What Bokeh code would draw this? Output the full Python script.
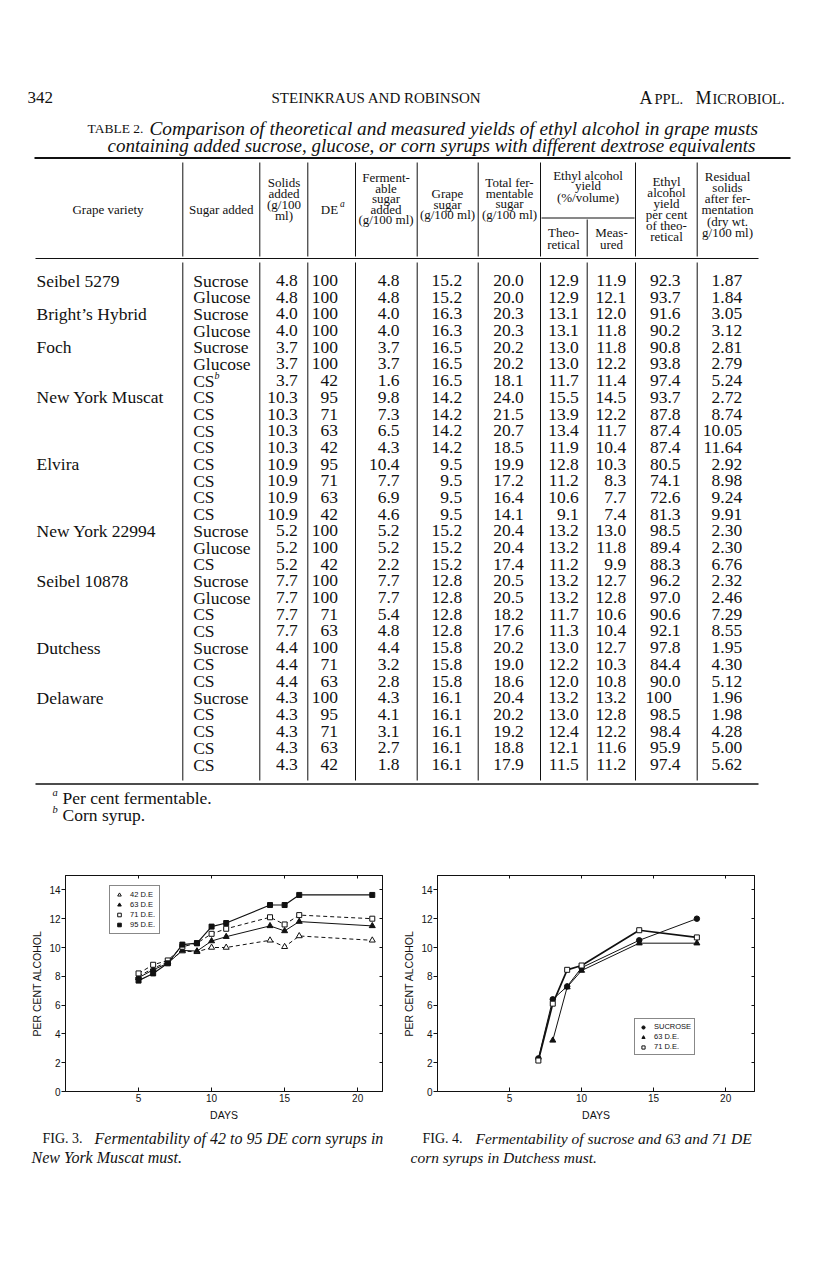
from bokeh.plotting import figure
from bokeh.models import Range1d, Legend, LegendItem, LinearAxis, FixedTicker
from bokeh.layouts import column, row
from bokeh.embed import file_html
from bokeh.resources import INLINE
from bokeh.core.properties import value

SERIF = "Liberation Serif"
SANS = "Liberation Sans"
INK = "#111111"

# ------------------------------------------------------------------ table data
grape_variety = ["Seibel 5279", "", "Bright\u2019s Hybrid", "", "Foch", "", "",
                 "New York Muscat", "", "", "", "Elvira", "", "", "",
                 "New York 22994", "", "", "Seibel 10878", "", "", "",
                 "Dutchess", "", "", "Delaware", "", "", "", ""]
sugar_added = ["Sucrose", "Glucose", "Sucrose", "Glucose", "Sucrose", "Glucose", "CS",
               "CS", "CS", "CS", "CS", "CS", "CS", "CS", "CS",
               "Sucrose", "Glucose", "CS", "Sucrose", "Glucose", "CS", "CS",
               "Sucrose", "CS", "CS", "Sucrose", "CS", "CS", "CS", "CS"]
sugar_note = {6: "b"}
solids_added = ["4.8", "4.8", "4.0", "4.0", "3.7", "3.7", "3.7", "10.3", "10.3", "10.3", "10.3",
                "10.9", "10.9", "10.9", "10.9", "5.2", "5.2", "5.2", "7.7", "7.7", "7.7", "7.7",
                "4.4", "4.4", "4.4", "4.3", "4.3", "4.3", "4.3", "4.3"]
de_values = ["100", "100", "100", "100", "100", "100", "42", "95", "71", "63", "42",
             "95", "71", "63", "42", "100", "100", "42", "100", "100", "71", "63",
             "100", "71", "63", "100", "95", "71", "63", "42"]
fermentable_added = ["4.8", "4.8", "4.0", "4.0", "3.7", "3.7", "1.6", "9.8", "7.3", "6.5", "4.3",
                     "10.4", "7.7", "6.9", "4.6", "5.2", "5.2", "2.2", "7.7", "7.7", "5.4", "4.8",
                     "4.4", "3.2", "2.8", "4.3", "4.1", "3.1", "2.7", "1.8"]
grape_sugar = ["15.2", "15.2", "16.3", "16.3", "16.5", "16.5", "16.5", "14.2", "14.2", "14.2", "14.2",
               "9.5", "9.5", "9.5", "9.5", "15.2", "15.2", "15.2", "12.8", "12.8", "12.8", "12.8",
               "15.8", "15.8", "15.8", "16.1", "16.1", "16.1", "16.1", "16.1"]
total_fermentable = ["20.0", "20.0", "20.3", "20.3", "20.2", "20.2", "18.1", "24.0", "21.5", "20.7", "18.5",
                     "19.9", "17.2", "16.4", "14.1", "20.4", "20.4", "17.4", "20.5", "20.5", "18.2", "17.6",
                     "20.2", "19.0", "18.6", "20.4", "20.2", "19.2", "18.8", "17.9"]
yield_theoretical = ["12.9", "12.9", "13.1", "13.1", "13.0", "13.0", "11.7", "15.5", "13.9", "13.4", "11.9",
                     "12.8", "11.2", "10.6", "9.1", "13.2", "13.2", "11.2", "13.2", "13.2", "11.7", "11.3",
                     "13.0", "12.2", "12.0", "13.2", "13.0", "12.4", "12.1", "11.5"]
yield_measured = ["11.9", "12.1", "12.0", "11.8", "11.8", "12.2", "11.4", "14.5", "12.2", "11.7", "10.4",
                  "10.3", "8.3", "7.7", "7.4", "13.0", "11.8", "9.9", "12.7", "12.8", "10.6", "10.4",
                  "12.7", "10.3", "10.8", "13.2", "12.8", "12.2", "11.6", "11.2"]
pct_of_theoretical = ["92.3", "93.7", "91.6", "90.2", "90.8", "93.8", "97.4", "93.7", "87.8", "87.4", "87.4",
                      "80.5", "74.1", "72.6", "81.3", "98.5", "89.4", "88.3", "96.2", "97.0", "90.6", "92.1",
                      "97.8", "84.4", "90.0", "100", "98.5", "98.4", "95.9", "97.4"]
residual_solids = ["1.87", "1.84", "3.05", "3.12", "2.81", "2.79", "5.24", "2.72", "8.74", "10.05", "11.64",
                   "2.92", "8.98", "9.24", "9.91", "2.30", "2.30", "6.76", "2.32", "2.46", "7.29", "8.55",
                   "1.95", "4.30", "5.12", "1.96", "1.98", "4.28", "5.00", "5.62"]

# ------------------------------------------------------------------ Fig. 3 data (New York Muscat)
fig3_days = [5, 6, 7, 8, 9, 10, 11, 14, 15, 16, 21]
fig3_de42 = [8.0, 8.55, 9.0, 9.75, 9.7, 10.0, 10.0, 10.5, 10.05, 10.8, 10.5]
fig3_de63 = [7.9, 8.45, 8.9, 9.8, 9.75, 10.45, 10.75, 11.5, 11.15, 11.8, 11.5]
fig3_de71 = [8.2, 8.8, 9.1, 10.05, 10.3, 10.95, 11.3, 12.1, 11.6, 12.25, 12.0]
fig3_de95 = [7.7, 8.2, 8.9, 10.2, 10.3, 11.45, 11.7, 12.95, 12.95, 13.65, 13.65]
fig3_labels = ["42 D.E", "63 D.E", "71 D.E.", "95 D.E."]

# ------------------------------------------------------------------ Fig. 4 data (Dutchess)
fig4_sucrose_days = [7, 8, 9, 10, 14, 18]
fig4_sucrose = [2.3, 6.4, 7.3, 8.6, 10.5, 12.0]
fig4_de63_days = [8, 9, 10, 14, 18]
fig4_de63 = [3.55, 7.25, 8.4, 10.3, 10.3]
fig4_de71_days = [7, 8, 9, 10, 14, 18]
fig4_de71 = [2.15, 6.1, 8.45, 8.75, 11.2, 10.7]
fig4_labels = ["SUCROSE", "63 D.E.", "71 D.E."]

day_ticks = [5, 10, 15, 20]
pct_ticks = [0, 2, 4, 6, 8, 10, 12, 14]


def txt(p, xs, ys, texts, size, align="left", font=SERIF, style="normal"):
    p.text(x=xs, y=ys, text=texts, text_font=value(font), text_font_size=size,
           text_font_style=style, text_align=align, text_baseline="middle", text_color=INK)


def blank(width, height, top, bottom):
    p = figure(width=width, height=height, x_range=Range1d(0, width), y_range=Range1d(bottom, top),
               output_backend="svg", toolbar_location=None, min_border=0,
               x_axis_location=None, y_axis_location=None)
    p.xgrid.visible = False
    p.ygrid.visible = False
    p.outline_line_color = None
    p.background_fill_color = "white"
    p.border_fill_color = "white"
    return p


# ================================================================== page top (header + table)
page = blank(808, 862, 0, 862)

txt(page, [27], [97], ["342"], "17px")
txt(page, [376], [97], ["STEINKRAUS AND ROBINSON"], "15px", align="center")
txt(page, [639, 654, 695, 712], [97, 98, 97, 98], ["A", "PPL.", "M", "ICROBIOL."],
    ["18px", "14.5px", "18px", "14.5px"])

txt(page, [87], [128], ["TABLE 2."], "13.5px")
txt(page, [149], [128], ["Comparison of theoretical and measured yields of ethyl alcohol in grape musts"],
    "19.3px", style="italic")
txt(page, [431], [145], ["containing added sucrose, glucose, or corn syrups with different dextrose equivalents"],
    "19px", align="center", style="italic")

# rules
page.segment(x0=[34], y0=[157.5], x1=[790], y1=[157.5], line_color=INK, line_width=2)
page.segment(x0=[35], y0=[258], x1=[758], y1=[258], line_color=INK, line_width=1.2)
page.segment(x0=[541], y0=[217.5], x1=[634], y1=[217.5], line_color=INK, line_width=1)
page.segment(x0=[35], y0=[783.5], x1=[758], y1=[783.5], line_color=INK, line_width=1.5)

col_edges = [182.3, 259.3, 307.3, 355, 416.7, 477.7, 540, 586.7, 635, 696.7]
head_edges = [e for e in col_edges if e != 586.7]
page.segment(x0=head_edges, y0=[162] * len(head_edges), x1=head_edges, y1=[256] * len(head_edges),
             line_color=INK, line_width=1)
page.segment(x0=[586.7], y0=[219], x1=[586.7], y1=[256], line_color=INK, line_width=1)
page.segment(x0=col_edges, y0=[262] * len(col_edges), x1=col_edges, y1=[780] * len(col_edges),
             line_color=INK, line_width=1)

# column headings
head_cells = [
    (107.5, [("Grape variety", 209.3)]),
    (220.8, [("Sugar added", 209.3)]),
    (283.5, [("Solids", 182), ("added", 193), ("(g/100", 204), ("ml)", 215)]),
    (329, [("DE", 209.3)]),
    (385.5, [("Ferment-", 177), ("able", 187.5), ("sugar", 198), ("added", 208.5), ("(g/100 ml)", 219)]),
    (447, [("Grape", 193), ("sugar", 203.5), ("(g/100 ml)", 214)]),
    (509, [("Total fer-", 182), ("mentable", 192.5), ("sugar", 203), ("(g/100 ml)", 213.5)]),
    (587.5, [("Ethyl alcohol", 175), ("yield", 185), ("(%/volume)", 196.5)]),
    (563, [("Theo-", 232), ("retical", 244)]),
    (611, [("Meas-", 232), ("ured", 244)]),
    (666, [("Ethyl", 181), ("alcohol", 192), ("yield", 203), ("per cent", 214), ("of theo-", 225), ("retical", 236)]),
    (727, [("Residual", 176), ("solids", 187), ("after fer-", 198), ("mentation", 209), ("(dry wt.", 220.5), ("g/100 ml)", 232)]),
]
hx, hy, ht = [], [], []
for cx, lines in head_cells:
    for t, y in lines:
        hx.append(cx)
        hy.append(y)
        ht.append(t)
txt(page, hx, hy, ht, "13px", align="center")
txt(page, [339.5], [203.5], ["a"], "9.5px", style="italic")

# table body
n = len(sugar_added)
row_y = [280 + i * 16.69 for i in range(n)]
BODY = "17.5px"
txt(page, [36] * n, row_y, grape_variety, BODY)
txt(page, [192.7] * n, row_y, sugar_added, BODY)
for i, note in sugar_note.items():
    txt(page, [214], [row_y[i] - 5], [note], "10px", style="italic")
txt(page, [297.3] * n, row_y, solids_added, BODY, align="right")
txt(page, [337.5] * n, row_y, de_values, BODY, align="right")
txt(page, [399] * n, row_y, fermentable_added, BODY, align="right")
txt(page, [461.7] * n, row_y, grape_sugar, BODY, align="right")
txt(page, [523.3] * n, row_y, total_fermentable, BODY, align="right")
txt(page, [578.3] * n, row_y, yield_theoretical, BODY, align="right")
txt(page, [625.7] * n, row_y, yield_measured, BODY, align="right")
pct_main = [(y, t) for y, t in zip(row_y, pct_of_theoretical) if t != "100"]
txt(page, [680] * len(pct_main), [a[0] for a in pct_main], [a[1] for a in pct_main], BODY, align="right")
pct_full = [(y, t) for y, t in zip(row_y, pct_of_theoretical) if t == "100"]
txt(page, [645] * len(pct_full), [a[0] for a in pct_full], [a[1] for a in pct_full], BODY)
txt(page, [741.7] * n, row_y, residual_solids, BODY, align="right")

# footnotes
txt(page, [52], [792], ["a"], "10.5px", style="italic")
txt(page, [62], [797], ["Per cent fermentable."], "17.5px")
txt(page, [52], [809], ["b"], "10.5px", style="italic")
txt(page, [62], [814], ["Corn syrup."], "17.5px")


# ================================================================== charts
def chart(width, x_end, bl, br, bt, bb):
    p = figure(width=width, height=262, x_range=Range1d(0, x_end), y_range=Range1d(0, 15),
               output_backend="svg", toolbar_location=None,
               min_border_left=bl, min_border_right=br, min_border_top=bt, min_border_bottom=bb)
    p.xgrid.visible = False
    p.ygrid.visible = False
    p.outline_line_color = INK
    p.background_fill_color = "white"
    p.border_fill_color = "white"
    xa = p.xaxis[0]
    ya = p.yaxis[0]
    xa.ticker = FixedTicker(ticks=day_ticks)
    ya.ticker = FixedTicker(ticks=pct_ticks)
    for ax in (xa, ya):
        ax.axis_line_color = INK
        ax.major_tick_line_color = INK
        ax.minor_tick_line_color = None
        ax.major_label_text_font = SANS
        ax.major_label_text_font_size = "10px"
        ax.major_label_text_color = INK
        ax.axis_label_text_font = SANS
        ax.axis_label_text_font_size = "10.5px"
        ax.axis_label_text_font_style = "normal"
        ax.axis_label_text_color = INK
    xa.axis_label = "DAYS"
    ya.axis_label = "PER CENT ALCOHOL"
    xa.major_tick_in, xa.major_tick_out = 4, 0
    xa.major_label_standoff, xa.axis_label_standoff = 2, 4
    ya.major_tick_in, ya.major_tick_out = 0, 4
    ya.major_label_standoff, ya.axis_label_standoff = 1, 3
    top = LinearAxis(ticker=FixedTicker(ticks=day_ticks), major_tick_in=3, major_tick_out=0,
                     minor_tick_line_color=None, major_label_text_font_size="0px",
                     major_label_standoff=0, axis_line_color=INK, major_tick_line_color=INK)
    right = LinearAxis(ticker=FixedTicker(ticks=pct_ticks[1:]), major_tick_in=3, major_tick_out=0,
                       minor_tick_line_color=None, major_label_text_font_size="0px",
                       major_label_standoff=0, axis_line_color=INK, major_tick_line_color=INK)
    p.add_layout(top, "above")
    p.add_layout(right, "right")
    return p


def style_legend(leg, row_h, pad):
    leg.border_line_color = INK
    leg.border_line_width = 1
    leg.background_fill_color = "white"
    leg.background_fill_alpha = 1
    leg.label_text_font = SANS
    leg.label_text_font_size = "7.5px"
    leg.label_text_color = INK
    leg.glyph_width = 10
    leg.glyph_height = row_h
    leg.label_height = row_h
    leg.label_standoff = 6
    leg.padding = pad
    leg.spacing = 1
    leg.margin = 0


# ---- Fig. 3
f3 = chart(400, 21.7, 65, 18, 13, 29)
f3.line(fig3_days, fig3_de42, line_color=INK, line_width=1, line_dash="4 3")
f3.line(fig3_days, fig3_de63, line_color=INK, line_width=1)
f3.line(fig3_days, fig3_de71, line_color=INK, line_width=1, line_dash="4 3")
f3.line(fig3_days, fig3_de95, line_color=INK, line_width=1.2)
s42 = f3.scatter(fig3_days, fig3_de42, marker="triangle", size=6, fill_color="white", line_color=INK)
s63 = f3.scatter(fig3_days, fig3_de63, marker="triangle", size=6, fill_color=INK, line_color=INK)
s71 = f3.scatter(fig3_days, fig3_de71, marker="square", size=5, fill_color="white", line_color=INK)
s95 = f3.scatter(fig3_days, fig3_de95, marker="square", size=5, fill_color=INK, line_color=INK)
leg3 = Legend(items=[LegendItem(label=lab, renderers=[r]) for lab, r in zip(fig3_labels, [s42, s63, s71, s95])],
              location=(44, 157))
style_legend(leg3, 9, 4)
f3.add_layout(leg3)

# ---- Fig. 4
f4 = chart(408, 22, 32, 54, 10, 33)
f4.line(fig4_sucrose_days, fig4_sucrose, line_color=INK, line_width=1)
f4.line(fig4_de63_days, fig4_de63, line_color=INK, line_width=1)
f4.line(fig4_de71_days, fig4_de71, line_color=INK, line_width=1.7)
ss = f4.scatter(fig4_sucrose_days, fig4_sucrose, marker="circle", size=5.5, fill_color=INK, line_color=INK)
s63b = f4.scatter(fig4_de63_days, fig4_de63, marker="triangle", size=6, fill_color=INK, line_color=INK)
s71b = f4.scatter(fig4_de71_days, fig4_de71, marker="square", size=5, fill_color="white", line_color=INK)
leg4 = Legend(items=[LegendItem(label=lab, renderers=[r]) for lab, r in zip(fig4_labels, [ss, s63b, s71b])],
              location=(197, 36))
style_legend(leg4, 8, 3)
f4.add_layout(leg4)

# ================================================================== captions
caps = blank(808, 138, 1124, 1262)
txt(caps, [42], [1137.5], ["FIG. 3."], "14px")
txt(caps, [94], [1137.5], ["Fermentability of 42 to 95 DE corn syrups in"], "16px", style="italic")
txt(caps, [31], [1156.5], ["New York Muscat must."], "16px", style="italic")
txt(caps, [422], [1137.5], ["FIG. 4."], "14px")
txt(caps, [475], [1137.5], ["Fermentability of sucrose and 63 and 71 DE"], "15.5px", style="italic")
txt(caps, [410], [1156.5], ["corn syrups in Dutchess must."], "15.5px", style="italic")

layout = column(page, row(f3, f4), caps)
open("out.html", "w").write(file_html(layout, INLINE))
